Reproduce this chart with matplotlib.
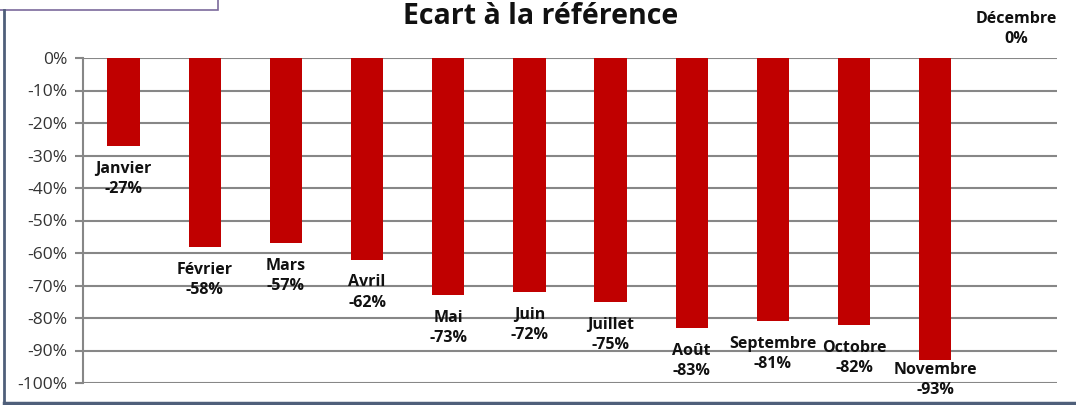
import matplotlib.pyplot as plt
from matplotlib.patches import Rectangle
from matplotlib.lines import Line2D
from matplotlib.ticker import FuncFormatter, MultipleLocator

# monthly gap vs. reference, in %
months = ["Janvier", "Février", "Mars", "Avril", "Mai", "Juin", "Juillet",
          "Août", "Septembre", "Octobre", "Novembre", "Décembre"]
ecart = [-27, -58, -57, -62, -73, -72, -75, -83, -81, -82, -93, 0]

BAR_COLOR = "#C00000"
GRID_COLOR = "#878787"
W, H = 1076, 405
plt.rcParams["font.family"] = ["Open Sans", "DejaVu Sans"]

fig = plt.figure(figsize=(W / 100, H / 100), dpi=100)
ax = fig.add_axes([83 / W, 1 - 383 / H, (1057 - 83) / W, 325 / H])

x = range(len(months))
ax.bar(x, ecart, width=0.4, color=BAR_COLOR, zorder=2)

ax.set_xlim(-0.5, len(months) - 0.5)
ax.set_ylim(-100, 0)
ax.yaxis.set_major_locator(MultipleLocator(10))
ax.yaxis.set_major_formatter(FuncFormatter(lambda v, p: f"{v:.0f}%"))
ax.tick_params(axis="y", labelsize=12.5, length=6, width=1.5, color=GRID_COLOR,
               pad=5.5, labelcolor="#333333")
ax.set_xticks([])
ax.grid(axis="y", color=GRID_COLOR, linewidth=1.5, zorder=1)
ax.set_axisbelow(True)
for side in ["top", "right", "bottom"]:
    ax.spines[side].set_visible(False)
ax.spines["left"].set_color(GRID_COLOR)
ax.spines["left"].set_linewidth(1.5)

# labels under each bar (above when the value is zero);
# a label is pushed up when it would run past the bottom of the chart
lowest_top = 362  # px from the top of the figure
for i, (m, v) in enumerate(zip(months, ecart)):
    if v < 0:
        bar_px = H - ax.transData.transform((i, v))[1]
        gap = min(15, lowest_top - bar_px)
        ax.annotate(f"{m}\n{v}%", (i, v), xytext=(0, -gap * 0.72), textcoords="offset points",
                    ha="center", va="top", fontsize=11.5, fontweight="bold",
                    linespacing=1.35, color="#111111", zorder=3, annotation_clip=False)
    else:
        ax.annotate(f"{m}\n{v}%", (i, v), xytext=(0, 8), textcoords="offset points",
                    ha="center", va="bottom", fontsize=11.5, fontweight="bold",
                    linespacing=1.35, color="#111111", annotation_clip=False)

fig.text(541 / W, 1 - 17 / H, "Ecart à la référence", ha="center", va="center",
         fontsize=20.5, fontweight="bold", color="#111111")

# chart frame and the box edge at the top left
frame = "#4F5F7A"
fig.add_artist(Line2D([4 / W, 4 / W], [1 - 403 / H, 1 - 10 / H],
                      transform=fig.transFigure, color=frame, linewidth=2))
fig.add_artist(Line2D([4 / W, 1], [1 - 403 / H, 1 - 403 / H],
                      transform=fig.transFigure, color=frame, linewidth=2.5))
fig.add_artist(Rectangle((-0.01, 1 - 10 / H), 218 / W + 0.01, 0.05,
                         transform=fig.transFigure, facecolor="white",
                         edgecolor="#7B6A9C", linewidth=1.2))

fig.savefig("out.png", dpi=100)
